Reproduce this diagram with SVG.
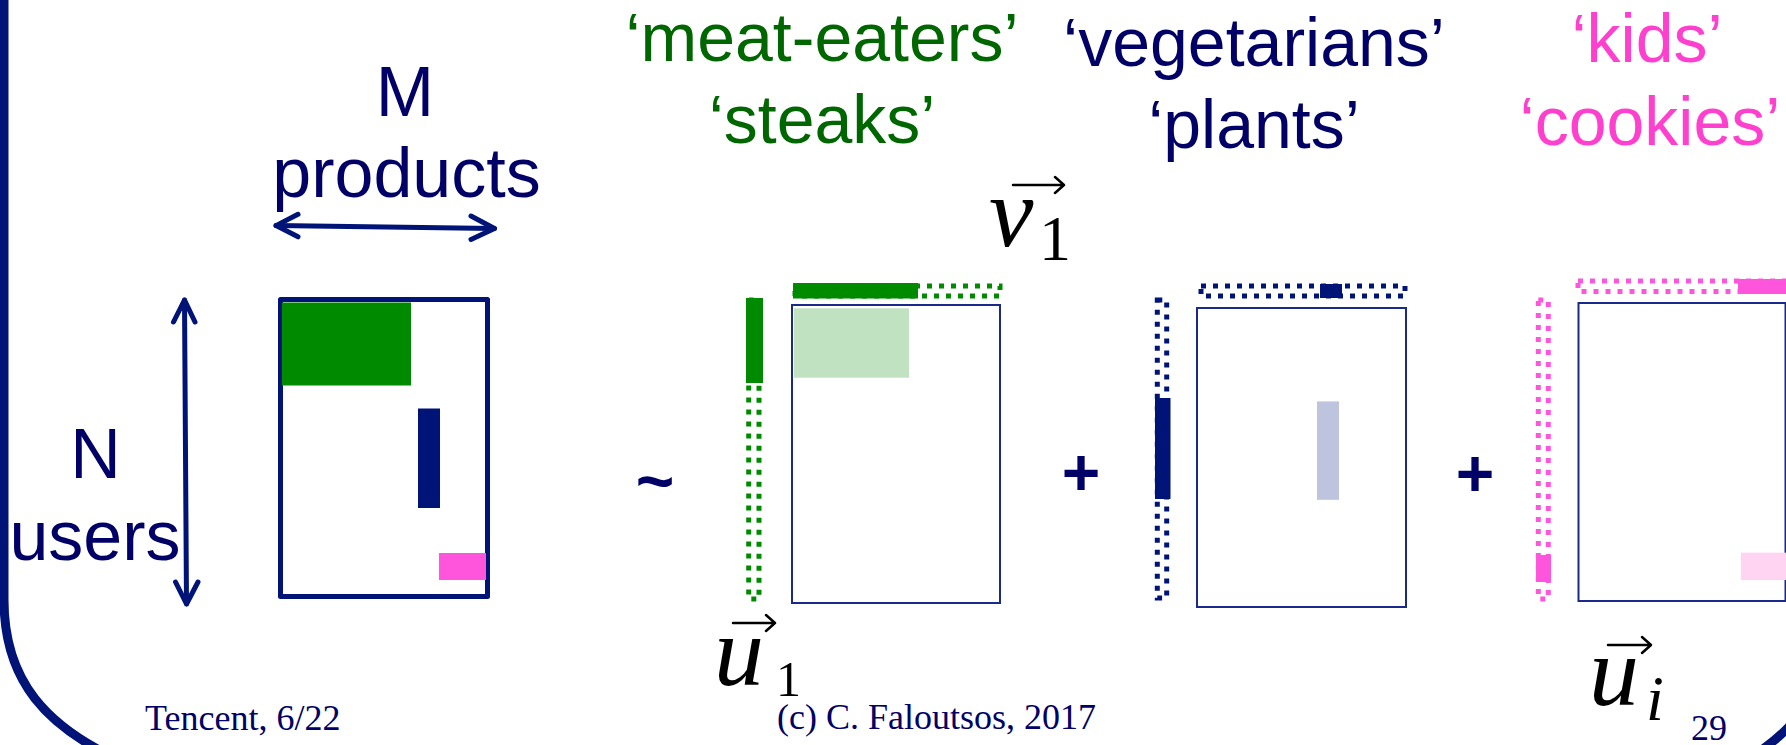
<svg xmlns="http://www.w3.org/2000/svg" width="1786" height="745" viewBox="0 0 1786 745">
<defs>
<style>
.lbl{font-family:"Liberation Sans",Arial,sans-serif;font-size:70px;text-anchor:middle}
.big{font-family:"Liberation Sans",Arial,sans-serif;font-size:68px;text-anchor:middle}
.navyT{fill:#000066}
.greenT{fill:#006600}
.pinkT{fill:#ff40cf}
.op{font-family:"Liberation Sans",Arial,sans-serif;font-weight:bold;fill:#000066;text-anchor:middle}
.math{font-family:"Liberation Serif","Times New Roman",serif;font-style:italic;fill:#000}
.mathr{font-family:"Liberation Serif","Times New Roman",serif;fill:#000}
.foot{font-family:"Liberation Serif","Times New Roman",serif;font-size:36px;fill:#000066}
.frame{fill:none;stroke:#001478;stroke-width:9}
.arr{fill:none;stroke:#001478;stroke-width:5;stroke-linecap:round;stroke-linejoin:round}
.vec{fill:none;stroke:#000;stroke-width:2.5;stroke-linecap:round;stroke-linejoin:round}
.mat{fill:#fff;stroke:#1a2a8a;stroke-width:2}
.dotG{fill:none;stroke:#008a00;stroke-width:5;stroke-dasharray:5 7}
.dotN{fill:none;stroke:#001478;stroke-width:5;stroke-dasharray:5 7}
.dotP{fill:none;stroke:#ff55dd;stroke-width:5;stroke-dasharray:5 7}
</style>
</defs>
<rect width="1786" height="745" fill="#fff"/>
<g id="frame">
<path class="frame" d="M 4 -5 V 600 C 4 680 45 728 128 764"/>
<path class="frame" d="M 1815 680 C 1805 715 1785 735 1750 758"/>
</g>
<g id="original-matrix">
<rect x="280.5" y="299.5" width="207" height="297" fill="#fff" stroke="#001478" stroke-width="5" stroke-linejoin="round"/>
<rect x="282" y="302.5" width="129" height="83" fill="#008a00"/>
<rect x="418" y="408.5" width="22" height="99.5" fill="#001478"/>
<rect x="439" y="553" width="47" height="27" fill="#ff55dd"/>
</g>
<g id="label-products">
<text class="lbl navyT" x="405" y="115.7">M</text>
<text class="lbl navyT" x="406.5" y="197">products</text>
</g>
<g id="label-users">
<text class="lbl navyT" x="95.5" y="477.5">N</text>
<text class="lbl navyT" x="95" y="559.6">users</text>
</g>
<g id="connectors">
<path class="arr" d="M 276 225.6 L 494.5 228.5"/>
<path class="arr" d="M 298 214.3 L 276 225.6 L 298 236.8"/>
<path class="arr" d="M 471 216 L 494.5 228.5 L 471 239.5"/>
<path class="arr" d="M 184.5 300 L 186.5 604"/>
<path class="arr" d="M 173.5 322 L 184.5 300 L 195 322"/>
<path class="arr" d="M 175.5 582 L 186.5 604 L 198 582"/>
</g>
<g id="approx-sign">
<text class="op" x="655" y="504" font-size="66">~</text>
</g>
<g id="component-1">
<rect class="mat" x="792" y="305" width="208" height="298"/>
<rect x="794" y="308.3" width="115" height="69.4" fill="#c0e2c0"/>
<rect x="746" y="298" width="17" height="85" fill="#008a00"/>
<rect class="dotG" x="748.7" y="300" width="10.3" height="299"/>
<rect x="793" y="283" width="125" height="15.5" fill="#008a00"/>
<rect class="dotG" x="795" y="286" width="205" height="10"/>
</g>
<g id="label-meat">
<text class="big greenT" x="822" y="61">‘meat-eaters’</text>
<text class="big greenT" x="822" y="143">‘steaks’</text>
</g>
<g id="vec-v1">
<text class="math" x="989" y="246" font-size="100">v</text>
<text class="mathr" x="1039" y="260" font-size="64">1</text>
<path class="vec" d="M 1013 185 H 1064 M 1055 177 L 1064 185 L 1055 193"/>
</g>
<g id="vec-u1">
<text class="math" x="714" y="685" font-size="100">u</text>
<text class="mathr" x="776" y="696" font-size="50">1</text>
<path class="vec" d="M 733 623 H 775 M 766 615 L 775 623 L 766 631"/>
</g>
<g id="plus-1">
<text class="op" x="1081" y="495" font-size="66">+</text>
</g>
<g id="component-2">
<rect class="mat" x="1197" y="308" width="209" height="299"/>
<rect x="1317" y="401.4" width="22" height="98.4" fill="#bec3de"/>
<rect x="1155" y="398" width="15.5" height="101" fill="#001478"/>
<rect class="dotN" x="1157.3" y="300" width="9.4" height="298"/>
<rect x="1320" y="284" width="22" height="14" fill="#001478"/>
<rect class="dotN" x="1201" y="286" width="204" height="10"/>
</g>
<g id="label-veg">
<text class="big navyT" x="1254" y="65.7">‘vegetarians’</text>
<text class="big navyT" x="1254" y="148">‘plants’</text>
</g>
<g id="plus-2">
<text class="op" x="1475" y="496" font-size="66">+</text>
</g>
<g id="component-3">
<rect class="mat" x="1578.5" y="303" width="207" height="298"/>
<rect x="1741" y="552.7" width="45" height="27.3" fill="#ffd4f2"/>
<rect x="1536" y="555" width="15" height="27" fill="#ff55dd"/>
<rect class="dotP" x="1538.3" y="300" width="10" height="299"/>
<rect x="1738" y="279" width="50" height="15" fill="#ff55dd"/>
<rect class="dotP" x="1578" y="281" width="215" height="10.5"/>
</g>
<g id="label-kids">
<text class="big pinkT" x="1647" y="62">‘kids’</text>
<text class="big pinkT" x="1650" y="145">‘cookies’</text>
</g>
<g id="vec-ui">
<text class="math" x="1589" y="705" font-size="100">u</text>
<text class="math" x="1646" y="720" font-size="64">i</text>
<path class="vec" d="M 1608 645 H 1651 M 1642 637 L 1651 645 L 1642 653"/>
</g>
<g id="footer">
<text class="foot" x="145" y="730">Tencent, 6/22</text>
<text class="foot" x="777" y="729">(c) C. Faloutsos, 2017</text>
<text class="foot" x="1691" y="740" font-size="46">29</text>
</g>
</svg>
